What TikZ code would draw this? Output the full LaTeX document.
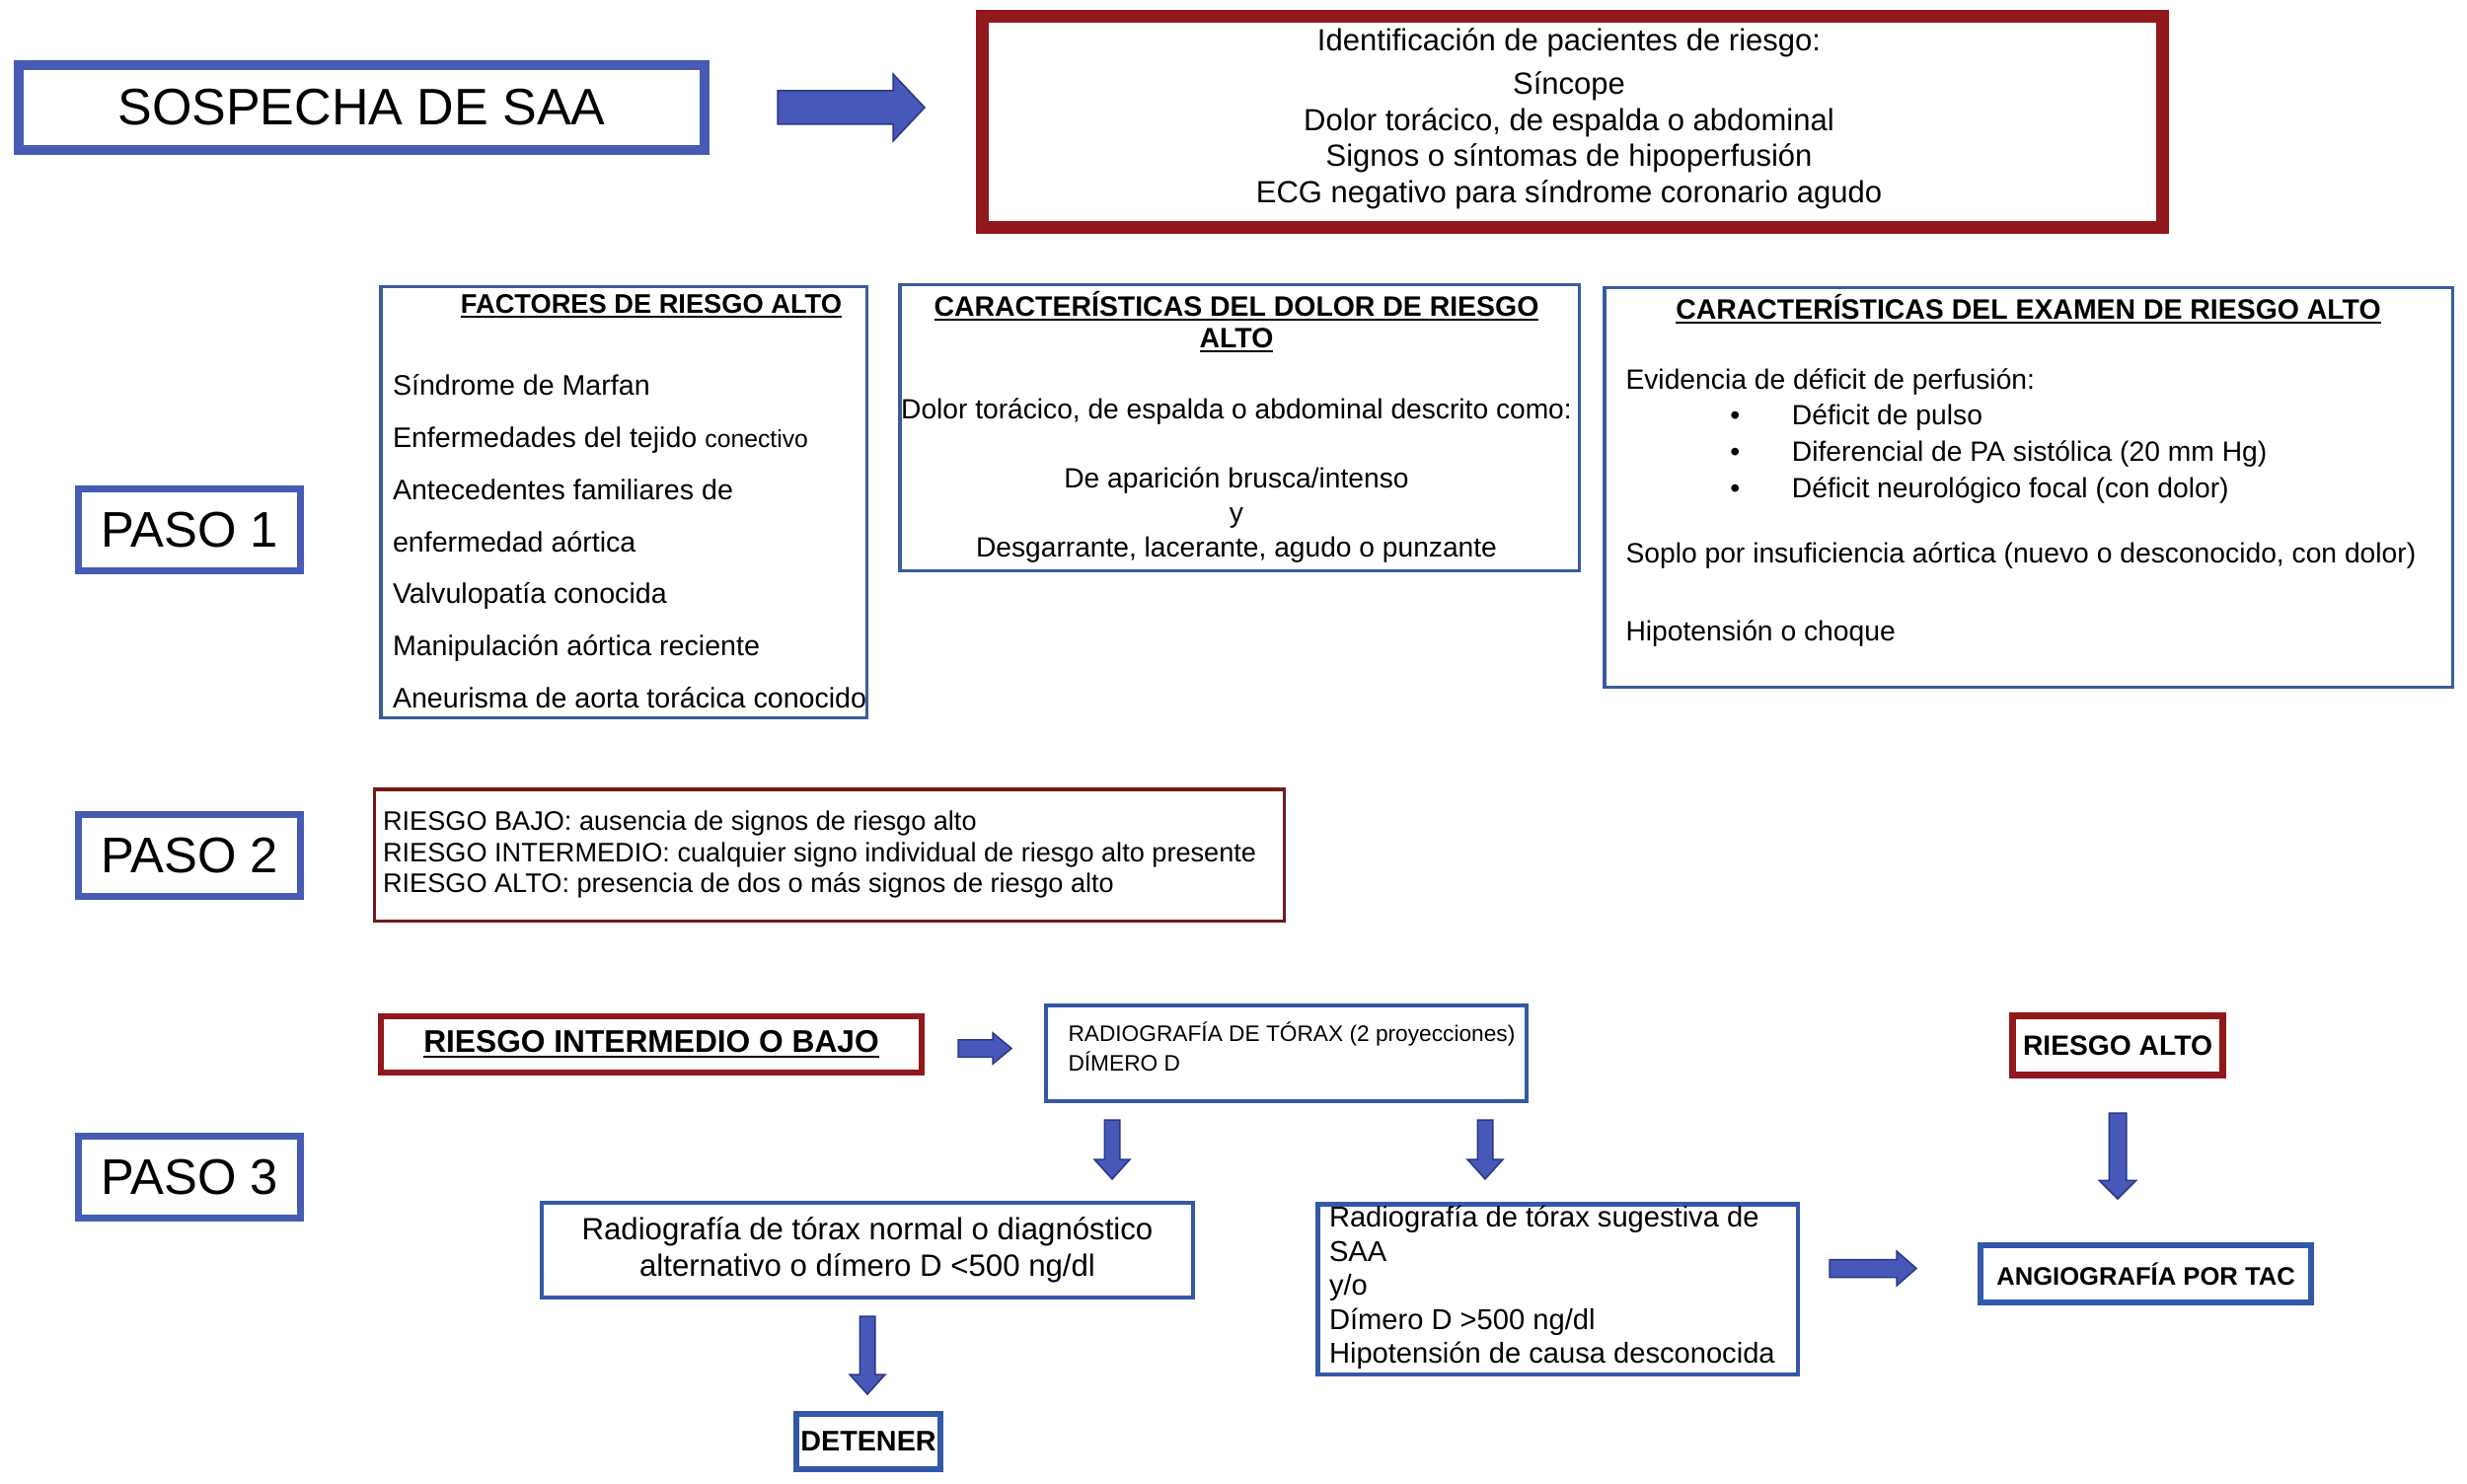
\documentclass[tikz,border=0pt]{standalone}
\usepackage{fontspec}
\setmainfont{Liberation Sans}
\usetikzlibrary{calc}
\definecolor{bluethick}{RGB}{70,92,180}
\definecolor{bluethin}{RGB}{58,92,158}
\definecolor{blueb}{RGB}{52,88,168}
\definecolor{redthick}{RGB}{145,24,27}
\definecolor{redthin}{RGB}{110,28,28}
\definecolor{arrowfill}{RGB}{72,88,184}
\definecolor{arrowline}{RGB}{40,55,135}
\newsavebox\ulbox
\newcommand{\ulx}[1]{\sbox\ulbox{#1}\rlap{\vrule width\wd\ulbox height -0.09em depth 0.17em}\usebox\ulbox}
\newcommand{\fs}[2]{\fontsize{#1}{#2}\selectfont}
% block arrow to the right: start, end, shaft half, head half, head length
\newcommand{\rarr}[5]{\path[arrsty] let \p1=(#1), \p2=(#2) in
 (\x1,{\y1+#3}) -- ({\x2-#5},{\y1+#3}) -- ({\x2-#5},{\y1+#4}) -- (\x2,\y1) --
 ({\x2-#5},{\y1-#4}) -- ({\x2-#5},{\y1-#3}) -- (\x1,{\y1-#3}) -- cycle;}
% block arrow downwards
\newcommand{\darr}[5]{\path[arrsty] let \p1=(#1), \p2=(#2) in
 ({\x1-#3},\y1) -- ({\x1-#3},{\y2+#5}) -- ({\x1-#4},{\y2+#5}) -- (\x1,\y2) --
 ({\x1+#4},{\y2+#5}) -- ({\x1+#3},{\y2+#5}) -- ({\x1+#3},\y1) -- cycle;}
\tikzset{
  box/.style={rectangle, inner sep=0pt, fill=white, text=black},
  txt/.style={inner sep=0pt, text=black},
  arrsty/.style={fill=arrowfill, draw=arrowline, line width=0.6pt, line join=miter},
  pasobox/.style={box, draw=bluethick, line width=2.8pt, minimum width=90pt, minimum height=33.2pt, font=\fs{20.3}{23}},
}
\begin{document}
\begin{tikzpicture}[x=0.4pt,y=-0.4pt]
\fill[white] (0,0) rectangle (2500,1504);
\useasboundingbox (0,0) rectangle (2500,1504);

% --- top row
\node[box, draw=bluethick, line width=4pt, minimum width=278pt, minimum height=34.4pt, font=\fs{20.8}{24}] (sosp) at (366.5,109) {SOSPECHA DE SAA};
\node[box, draw=redthick, line width=5.2pt, minimum width=478.4pt, minimum height=85.6pt] (ident) at (1593.5,123.5) {};
\node[txt, align=center, font=\fs{12.4}{14.6}] (identt) at (1590,120.5) {Identificación de pacientes de riesgo:\\[3pt] Síncope\\ Dolor torácico, de espalda o abdominal\\ Signos o síntomas de hipoperfusión\\ ECG negativo para síndrome coronario agudo};
\coordinate (a1s) at (788,109);
\coordinate (a1e) at (937,109);
\rarr{a1s}{a1e}{6.8pt}{13.6pt}{12.8pt}

% --- paso boxes
\node[pasobox] (paso1) at (192,537) {PASO 1};
\node[pasobox] (paso2) at (192,867) {PASO 2};
\node[pasobox] (paso3) at (192,1193) {PASO 3};

% --- factores
\node[box, draw=bluethin, line width=1.4pt, minimum width=197pt, minimum height=174.6pt] (fact) at (632,509) {};
\node[txt, font=\bfseries\fs{10.9}{13}] (factt) at (660,310) {\ulx{FACTORES DE RIESGO ALTO}};
\node[txt, anchor=west, align=left, font=\fs{11.44}{21.1}] (factl) at (397.5,548.7) {Síndrome de Marfan\\ Enfermedades del tejido {\fs{9.9}{21.1}conectivo}\\ Antecedentes familiares de\\ enfermedad aórtica\\ Valvulopatía conocida\\ Manipulación aórtica reciente\\ Aneurisma de aorta torácica conocido};

% --- dolor
\node[box, draw=bluethin, line width=1.4pt, minimum width=275.4pt, minimum height=115.8pt] (dolor) at (1256,433.5) {};
\node[txt, align=center, font=\bfseries\fs{11.37}{12.7}] (dolort) at (1253,326) {\ulx{CARACTERÍSTICAS DEL DOLOR DE RIESGO}\\ \ulx{ALTO}};
\node[txt, align=center, font=\fs{11.27}{14}] (dolorl) at (1253,486.7) {Dolor torácico, de espalda o abdominal descrito como:\\[14pt] De aparición brusca/intenso\\ y\\ Desgarrante, lacerante, agudo o punzante};

% --- examen
\node[box, draw=bluethin, line width=1.4pt, minimum width=343.8pt, minimum height=161.8pt] (exam) at (2055.5,494) {};
\node[txt, font=\bfseries\fs{11.37}{13}] (examt) at (2055.5,313.3) {\ulx{CARACTERÍSTICAS DEL EXAMEN DE RIESGO ALTO}};
\node[txt, anchor=west, font=\fs{11.3}{14.7}] (exa) at (1647,386.7) {Evidencia de déficit de perfusión:};
\node[txt, anchor=west, align=left, font=\fs{11.3}{14.7}] (exb) at (1815.4,460) {\llap{•\hspace{21.1pt}}Déficit de pulso\\ \llap{•\hspace{21.1pt}}Diferencial de PA sistólica (20 mm Hg)\\ \llap{•\hspace{21.1pt}}Déficit neurológico focal (con dolor)};
\node[txt, anchor=west, font=\fs{11.3}{14.7}] (exc) at (1647,563.3) {Soplo por insuficiencia aórtica (nuevo o desconocido, con dolor)};
\node[txt, anchor=west, font=\fs{11.3}{14.7}] (exd) at (1647,641.7) {Hipotensión o choque};

% --- paso 2
\node[box, draw=redthin, line width=1.4pt, minimum width=368.6pt, minimum height=53.4pt] (p2) at (840.5,866.5) {};
\node[txt, anchor=west, align=left, font=\fs{10.85}{12.7}] (p2t) at (387.6,866) {RIESGO BAJO: ausencia de signos de riesgo alto\\ RIESGO INTERMEDIO: cualquier signo individual de riesgo alto presente\\ RIESGO ALTO: presencia de dos o más signos de riesgo alto};

% --- paso 3
\node[box, draw=redthick, line width=2.4pt, minimum width=219.2pt, minimum height=22.8pt, font=\bfseries\fs{12.68}{14}] (rib) at (660,1058.5) {\ulx{RIESGO INTERMEDIO O BAJO}};
\node[box, draw=blueb, line width=1.6pt, minimum width=194.8pt, minimum height=38.8pt] (rad) at (1303.5,1067.5) {};
\node[txt, anchor=west, align=left, font=\fs{9.08}{12}] (radt) at (1082,1061) {RADIOGRAFÍA DE TÓRAX (2 proyecciones)\\ DÍMERO D};
\node[box, draw=blueb, line width=1.6pt, minimum width=264pt, minimum height=38.4pt, align=center, font=\fs{12.47}{14.7}] (norm) at (879,1267) {Radiografía de tórax normal o diagnóstico\\ alternativo o dímero D <500 ng/dl};
\node[box, draw=blueb, line width=2.4pt, minimum width=58.4pt, minimum height=22.4pt, font=\bfseries\fs{11.5}{13}] (deten) at (880,1461) {DETENER};
\node[box, draw=blueb, line width=1.8pt, minimum width=194.6pt, minimum height=69pt] (sug) at (1578.5,1306.5) {};
\node[txt, anchor=west, align=left, font=\fs{11.65}{13.8}] (sugt) at (1346.5,1305) {Radiografía de tórax sugestiva de\\ SAA\\ y/o\\ Dímero D >500 ng/dl\\ Hipotensión de causa desconocida};
\node[box, draw=redthick, line width=2.8pt, minimum width=85.2pt, minimum height=24pt, font=\bfseries\fs{11.3}{13}] (ralto) at (2146,1059.5) {RIESGO ALTO};
\node[box, draw=blueb, line width=2.4pt, minimum width=134pt, minimum height=23.2pt, font=\bfseries\fs{10.24}{12}] (angio) at (2174.5,1291) {ANGIOGRAFÍA POR TAC};

% --- block arrows
\coordinate (a2s) at (971,1062.5);  \coordinate (a2e) at (1025,1062.5);
\rarr{a2s}{a2e}{3.5pt}{6.3pt}{7.6pt}
\coordinate (a3s) at (1127,1135);  \coordinate (a3e) at (1127,1195);
\darr{a3s}{a3e}{3.1pt}{7.2pt}{8pt}
\coordinate (a4s) at (1505,1135);  \coordinate (a4e) at (1505,1195);
\darr{a4s}{a4e}{3.1pt}{7.2pt}{8pt}
\coordinate (a5s) at (879,1334);  \coordinate (a5e) at (879,1413);
\darr{a5s}{a5e}{3.1pt}{7.2pt}{8pt}
\coordinate (a6s) at (1854,1285.5);  \coordinate (a6e) at (1942,1285.5);
\rarr{a6s}{a6e}{3.6pt}{7pt}{8pt}
\coordinate (a7s) at (2146,1128);  \coordinate (a7e) at (2146,1215);
\darr{a7s}{a7e}{3.5pt}{7.5pt}{7.5pt}
\end{tikzpicture}
\end{document}
